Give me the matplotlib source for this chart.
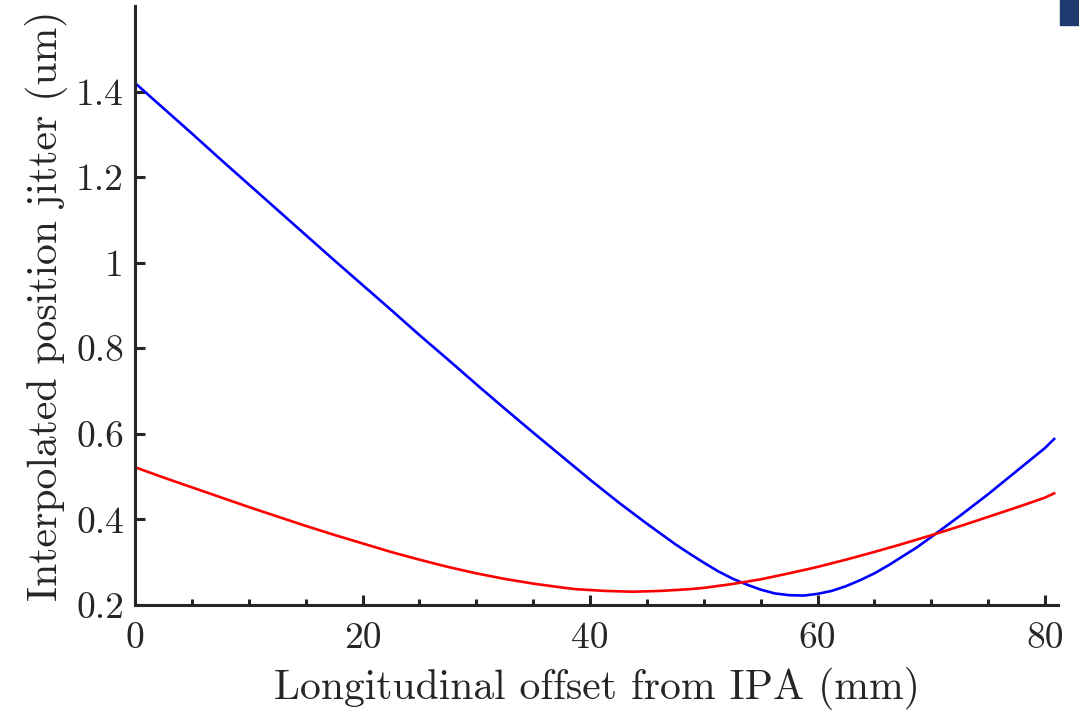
import matplotlib
matplotlib.use("Agg")
import matplotlib.pyplot as plt
from matplotlib.ticker import MultipleLocator, FuncFormatter
from matplotlib.patches import Rectangle

# Data
offset_blue = [0, 2.5, 5, 7.5, 10, 12.5, 15, 17.5, 20, 22.5, 25, 27.5, 30, 32.5,
               35, 37.5, 40, 42.5, 45, 47.5, 48.75, 50, 51.25, 52.5, 53.75, 55,
               56.25, 57.5, 58.75, 60, 61.25, 62.5, 63.75, 65, 66.25, 67.5,
               68.75, 70, 72.5, 75, 77.5, 80, 80.8]
jitter_blue = [1.420, 1.361, 1.302, 1.242, 1.183, 1.124, 1.065, 1.006, 0.948,
               0.890, 0.831, 0.774, 0.716, 0.659, 0.603, 0.548, 0.493, 0.440,
               0.390, 0.342, 0.320, 0.299, 0.279, 0.262, 0.248, 0.236,
               0.227, 0.223, 0.222, 0.226, 0.233, 0.244, 0.258, 0.274, 0.293,
               0.314, 0.335, 0.359, 0.408, 0.459, 0.513, 0.567, 0.588]
offset_red = [0, 2.5, 5, 7.5, 10, 12.5, 15, 17.5, 20, 22.5, 25, 27.5, 30, 32.5,
              35, 37.5, 38.75, 40, 41.25, 42.5, 43.75, 45, 46.25, 47.5, 48.75,
              50, 52.5, 55, 57.5, 60, 62.5, 65, 67.5, 70, 72.5, 75, 77.5, 80,
              80.8]
jitter_red = [0.522, 0.498, 0.475, 0.452, 0.429, 0.407, 0.385, 0.364, 0.344,
              0.324, 0.306, 0.289, 0.274, 0.261, 0.250, 0.241, 0.237, 0.235,
              0.233, 0.232, 0.231, 0.232, 0.233, 0.235, 0.237, 0.240, 0.249,
              0.260, 0.274, 0.289, 0.306, 0.324, 0.343, 0.363, 0.384, 0.406,
              0.428, 0.451, 0.461]
x_ticks = [0, 20, 40, 60, 80]
y_ticks = [0.2, 0.4, 0.6, 0.8, 1.0, 1.2, 1.4]

plt.rcParams['font.family'] = ['cmr10', 'DejaVu Serif']
plt.rcParams['mathtext.fontset'] = 'cm'
plt.rcParams['axes.unicode_minus'] = False

W, H = 1079, 711
fig = plt.figure(figsize=(W / 100, H / 100), dpi=100)
ax = fig.add_axes([135 / W, 1 - 605 / H, (1058 - 135) / W, (605 - 6) / H])

ax.plot(offset_blue, jitter_blue, color=(0, 0, 1), lw=1.9)
ax.plot(offset_red, jitter_red, color=(1, 0, 0), lw=1.9)

ax.set_xlim(0, 81.14)
ax.set_ylim(0.2, 1.6)
ax.set_xticks(x_ticks)
ax.set_yticks(y_ticks)
ax.xaxis.set_minor_locator(MultipleLocator(5))
ax.yaxis.set_major_formatter(FuncFormatter(lambda v, p: f"{v:g}"))
ax.xaxis.set_major_formatter(FuncFormatter(lambda v, p: f"{v:g}"))

spine_col = '#262626'
for s in ['top', 'right']:
    ax.spines[s].set_visible(False)
for s in ['left', 'bottom']:
    ax.spines[s].set_color(spine_col)
    ax.spines[s].set_linewidth(2.2)

ax.tick_params(axis='both', which='major', direction='in', length=7.5,
               width=2.2, color=spine_col, labelsize=27, labelcolor=spine_col)
ax.tick_params(axis='x', which='major', pad=12)
ax.tick_params(axis='y', which='major', pad=8)
ax.tick_params(axis='x', which='minor', direction='in', length=4,
               width=2.2, color=spine_col)

ax.set_xlabel('Longitudinal offset from IPA (mm)', fontsize=30,
              color=spine_col, labelpad=9)
ax.set_ylabel('Interpolated position jitter (um)', fontsize=30,
              color=spine_col, labelpad=6)

fig.patches.append(Rectangle((1060 / W, 1 - 25 / H), 19 / W, 25 / H,
                             transform=fig.transFigure, color='#1c3a6e',
                             zorder=10))

fig.savefig('out.png', dpi=100)
